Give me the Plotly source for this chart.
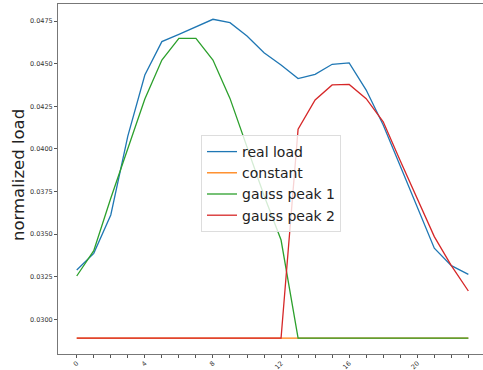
import plotly.graph_objects as go

hours = list(range(24))
real_load = [0.03289, 0.03387, 0.03612, 0.04075, 0.04433, 0.04629, 0.04672, 0.04717,
             0.04760, 0.04740, 0.04662, 0.04564, 0.04492, 0.04412, 0.04437, 0.04496,
             0.04504, 0.04345, 0.04140, 0.03900, 0.03661, 0.03417, 0.03315, 0.03264]
constant = [0.02890] * 24
gauss_peak_1 = [0.03254, 0.03403, 0.03710, 0.04000, 0.04292, 0.04521, 0.04648, 0.04648,
                0.04521, 0.04296, 0.04005, 0.03726, 0.03465, 0.02890, 0.02890, 0.02890,
                0.02890, 0.02890, 0.02890, 0.02890, 0.02890, 0.02890, 0.02890, 0.02890]
gauss_peak_2 = [0.02890, 0.02890, 0.02890, 0.02890, 0.02890, 0.02890, 0.02890, 0.02890,
                0.02890, 0.02890, 0.02890, 0.02890, 0.02890, 0.04115, 0.04287, 0.04375,
                0.04378, 0.04294, 0.04159, 0.03930, 0.03710, 0.03485, 0.03315, 0.03166]
y_ticks = [0.0300, 0.0325, 0.0350, 0.0375, 0.0400, 0.0425, 0.0450, 0.0475]
x_tick_labels = [str(h) if h % 4 == 0 else "" for h in hours]

series = [("real load", real_load, "#1f77b4"),
          ("constant", constant, "#ff7f0e"),
          ("gauss peak 1", gauss_peak_1, "#2ca02c"),
          ("gauss peak 2", gauss_peak_2, "#d62728")]

fig = go.Figure()
for name, vals, color in series:
    fig.add_trace(go.Scatter(x=hours, y=vals, mode="lines", name=name,
                             line=dict(color=color, width=1.3)))

font_family = "DejaVu Sans"
fig.update_layout(
    width=483, height=370,
    margin=dict(l=58, r=0, t=4, b=16),
    plot_bgcolor="white", paper_bgcolor="white",
    font=dict(family=font_family, color="#222"),
    showlegend=True,
    legend=dict(x=(201 - 58) / 425, y=(354 - 135) / 350, xanchor="left", yanchor="top",
                bgcolor="rgba(255,255,255,0.8)", bordercolor="#dddddd", borderwidth=1,
                font=dict(size=14, family=font_family, color="#222"),
                itemwidth=30, tracegroupgap=0),
    xaxis=dict(range=[-1.1, 23.86], tickmode="array", tickvals=hours, ticktext=x_tick_labels,
               tickangle=-45, ticks="outside", ticklen=3, tickcolor="#555",
               tickfont=dict(size=6.5, family=font_family, color="#333"),
               ticklabelstandoff=-1,
               showline=True, linecolor="#777", linewidth=1, mirror=True,
               showgrid=False, zeroline=False, automargin=False),
    yaxis=dict(range=[0.027965, 0.048497], tickmode="array", tickvals=y_ticks,
               tickformat=".4f", ticks="outside", ticklen=3, tickcolor="#555",
               tickfont=dict(size=6.5, family=font_family, color="#333"),
               showline=True, linecolor="#777", linewidth=1,
               showgrid=False, zeroline=False, automargin=False),
    annotations=[dict(text="normalized load", xref="paper", yref="paper",
                      x=(18 - 58) / 425, y=(354 - 175) / 350, textangle=-90,
                      showarrow=False, xanchor="center", yanchor="middle",
                      font=dict(size=16.5, family=font_family, color="#222"))],
)

fig.write_html("out.html", config={"displayModeBar": False},
               post_script="document.body.style.margin='0';document.body.style.overflow='hidden';")
